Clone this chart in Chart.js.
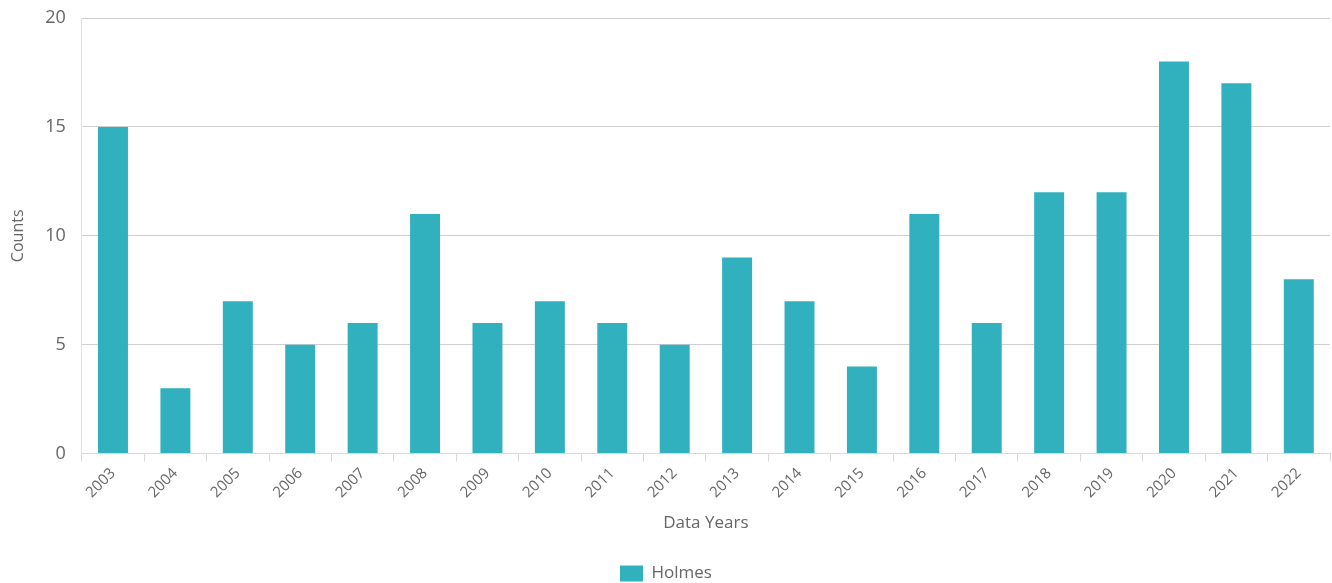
<!DOCTYPE html>
<html lang="en">
<head>
  <meta charset="UTF-8">
  <title>Holmes Counts by Year</title>
  <script src="https://cdn.jsdelivr.net/npm/chart.js@4/dist/chart.umd.min.js"></script>
  <style>
    html, body { margin: 0; padding: 0; background: #fff; }
    #chart-container { width: 1332px; height: 583px; }
  </style>
</head>
<body>
  <div id="chart-container"><canvas id="chart"></canvas></div>

  <script>
    // Yearly counts
    const years = ["2003", "2004", "2005", "2006", "2007", "2008", "2009", "2010", "2011", "2012",
                   "2013", "2014", "2015", "2016", "2017", "2018", "2019", "2020", "2021", "2022"];
    const holmesCounts = [15, 3, 7, 5, 6, 11, 6, 7, 6, 5, 9, 7, 4, 11, 6, 12, 12, 18, 17, 8];

    const textColor = "#666";
    const fontFamily = "'Open Sans', 'Noto Sans', sans-serif";

    const ctx = document.getElementById("chart").getContext("2d");
    const chart = new Chart(ctx, {
      type: "bar",
      data: {
        labels: years,
        datasets: [{
          label: "Holmes",
          data: holmesCounts,
          backgroundColor: "#31b0be",
          borderWidth: 0,
          categoryPercentage: 0.48,
          barPercentage: 1
        }]
      },
      options: {
        responsive: true,
        maintainAspectRatio: false,
        animation: false,
        layout: { padding: { left: 2, right: 2, top: 0, bottom: -9 } },
        plugins: {
          tooltip: { enabled: false },
          legend: {
            position: "bottom",
            labels: {
              color: textColor,
              font: { family: fontFamily, size: 17 },
              boxWidth: 23,
              boxHeight: 16,
              padding: 0
            }
          }
        },
        scales: {
          x: {
            offset: true,
            grid: {
              display: true,
              drawOnChartArea: false,
              drawTicks: true,
              tickLength: 8,
              color: "#d9d9d9"
            },
            border: { color: "#d9d9d9" },
            ticks: {
              color: textColor,
              font: { family: fontFamily, size: 15 },
              maxRotation: 45,
              minRotation: 45,
              autoSkip: false
            },
            title: {
              display: true,
              text: "Data Years",
              color: textColor,
              font: { family: fontFamily, size: 17 },
              padding: { top: 8, bottom: 32 }
            }
          },
          y: {
            min: 0,
            max: 20,
            // keep the "20" label close to the top edge despite the wide tick padding
            afterFit: (scale) => { scale.paddingTop = 18; },
            ticks: {
              stepSize: 5,
              color: textColor,
              font: { family: fontFamily, size: 18 },
              padding: 16
            },
            grid: {
              color: "#cfcfcf",
              drawTicks: false
            },
            border: { display: true, color: "#e3e3e3" },
            title: {
              display: true,
              text: "Counts",
              color: textColor,
              font: { family: fontFamily, size: 16 },
              padding: { top: 7, bottom: 1 }
            }
          }
        }
      }
    });
  </script>
</body>
</html>
